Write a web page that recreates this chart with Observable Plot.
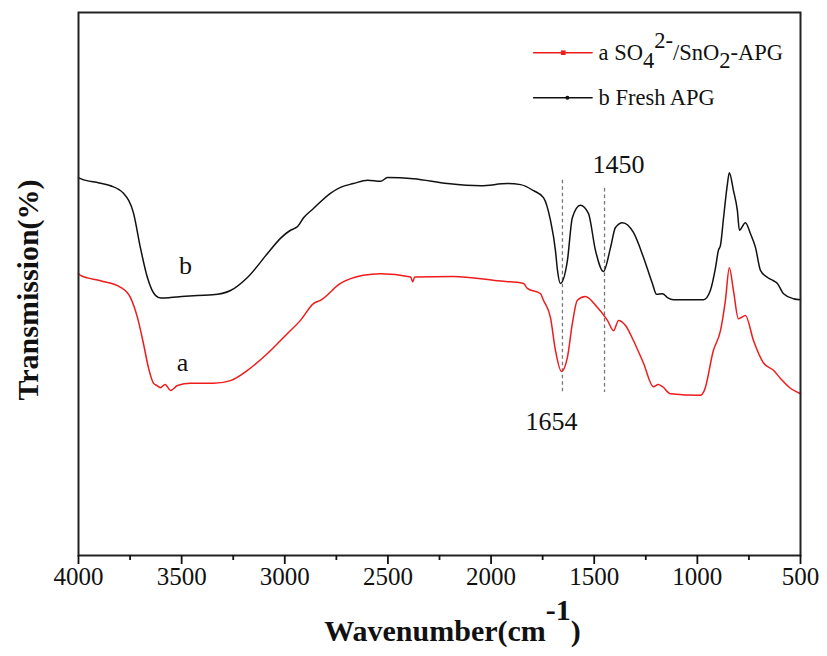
<!DOCTYPE html>
<html><head><meta charset="utf-8">
<script src="https://cdn.jsdelivr.net/npm/d3@7"></script>
<script src="https://cdn.jsdelivr.net/npm/@observablehq/plot@0.6"></script>
<style>body{margin:0;background:#fff}</style>
</head><body><div id="chart"></div>
<script>
// ---- data ----
const blackWn = [4000,3990,3900,3845,3782,3733,3700,3666,3627,3600,3554,3500,3423,3350,3263,3181,3084,3021,2972,2950,2938,2909,2861,2779,2730,2667,2599,2536,2502,2376,2211,2051,1920,1857,1794,1746,1712,1688,1678,1664,1630,1606,1567,1528,1494,1455,1421,1397,1363,1310,1261,1218,1198,1169,1145,1116,970,937,912,898,888,873,854,845,825,806,796,767,743,718,694,660,631,612,582,534,500];
const blackT = [69.6,69.4,68.6,68.1,66.7,63.0,56.7,51.2,47.9,47.4,47.5,47.7,47.9,48.0,48.8,51.2,55.6,58.4,59.9,60.3,60.6,62.2,63.9,66.7,67.8,68.5,69.1,68.9,69.6,69.4,68.5,68.1,68.5,68.3,67.2,65.9,61.7,56.2,52.5,50.1,54.3,62.2,64.5,63.0,56.2,52.3,56.7,60.4,61.3,59.5,54.9,50.1,48.1,48.2,47.5,47.1,47.1,48.8,53.0,56.2,57.1,62.2,68.5,70.5,67.2,63.5,59.9,61.3,59.3,56.7,52.5,51.2,50.6,50.1,48.2,47.3,47.1];
const redWn = [4000,3990,3893,3796,3748,3714,3685,3661,3636,3620,3603,3580,3554,3520,3457,3346,3263,3181,3084,2987,2924,2861,2827,2730,2619,2536,2390,2380,2370,2182,1969,1843,1824,1760,1746,1712,1688,1659,1630,1606,1582,1543,1485,1436,1406,1382,1349,1310,1261,1213,1190,1169,1130,985,966,922,888,864,845,825,801,767,728,680,631,597,549,500];
const redT = [51.9,51.6,50.6,49.4,47.5,43.8,39.0,34.6,31.7,31.3,30.9,31.5,30.4,31.3,31.7,31.7,32.2,34.1,37.2,40.9,43.3,46.4,47.0,50.1,51.6,51.9,51.3,50.4,51.3,51.4,50.6,50.1,49.2,48.2,47.0,43.8,37.8,33.9,36.5,42.7,47.0,47.7,45.7,43.3,41.4,43.3,42.4,39.6,35.4,31.1,31.5,31.1,29.8,29.5,30.4,37.8,41.4,47.0,53.0,48.8,43.6,44.2,39.6,35.5,34.1,32.6,30.8,29.8];

const seriesNames = ["a SO₄²⁻/SnO₂-APG", "b Fresh APG"];
const seriesColors = ["#ee1c1c", "#111111"];
const legendY = [92.6, 84.3];
const legendX1 = 1794, legendX2 = 1510, legendMark = 1650, legendTextX = 1479;

const curveLabels = ["b", "a"];
const curveLabelWn = [3481, 3496];
const curveLabelT = [53.4, 35.5];

const peaks = [1654, 1450];
const peakTop = [69.1, 67.6];
const peakBottom = [30.0, 30.0];
const peakLabels = ["1654", "1450"];
const peakLabelWn = [1707, 1382];
const peakLabelT = [24.7, 72.0];

const majorTicks = [4000,3500,3000,2500,2000,1500,1000,500];
const majorTickLabels = ["4000","3500","3000","2500","2000","1500","1000","500"];
const minorTicks = [3750,3250,2750,2250,1750,1250,750];
const xTitle = "Wavenumber(cm⁻¹)";
const yTitle = "Transmission(%)";

// ---- tables ----
const black = blackWn.map((w, i) => ({wn: w, t: blackT[i]}));
const red = redWn.map((w, i) => ({wn: w, t: redT[i]}));
const legendLines = [];
seriesNames.forEach((s, i) => { legendLines.push({s: i, wn: legendX1, t: legendY[i]}, {s: i, wn: legendX2, t: legendY[i]}); });

const serif = "'Liberation Serif','Times New Roman',Times,serif";

const chart = Plot.plot({
  width: 827, height: 656,
  marginLeft: 78, marginRight: 27, marginTop: 12, marginBottom: 101,
  style: {fontFamily: serif, background: "#fff", color: "#111", overflow: "visible"},
  x: {domain: [4000, 500]},
  y: {domain: [0, 100], axis: null},
  marks: [
    Plot.ruleX(peaks, {x: d => d, y1: (d, i) => peakTop[i], y2: (d, i) => peakBottom[i], stroke: "#777", strokeWidth: 1.3, strokeDasharray: "3.5,3"}),
    Plot.line(red, {x: "wn", y: "t", stroke: seriesColors[0], strokeWidth: 1.5, curve: "monotone-x"}),
    Plot.line(black, {x: "wn", y: "t", stroke: seriesColors[1], strokeWidth: 1.5, curve: "monotone-x"}),
    Plot.line(legendLines.filter(d => d.s === 0), {x: "wn", y: "t", stroke: seriesColors[0], strokeWidth: 1.5}),
    Plot.line(legendLines.filter(d => d.s === 1), {x: "wn", y: "t", stroke: seriesColors[1], strokeWidth: 1.5}),
    Plot.dot([0], {x: legendMark, y: legendY[0], symbol: "square", r: 2.6, fill: seriesColors[0]}),
    Plot.dot([1], {x: legendMark - 20, y: legendY[1], r: 2, fill: seriesColors[1]}),
    Plot.text(seriesNames, {x: legendTextX, y: (d, i) => legendY[i], text: d => d, textAnchor: "start", fontSize: 22.5, fontFamily: serif, fill: "#111"}),
    Plot.text(curveLabels, {x: (d, i) => curveLabelWn[i], y: (d, i) => curveLabelT[i], text: d => d, fontSize: 26, fontFamily: serif, fill: "#111"}),
    Plot.text(peakLabels, {x: (d, i) => peakLabelWn[i], y: (d, i) => peakLabelT[i], text: d => d, fontSize: 26, fontFamily: serif, fill: "#111"}),
    Plot.frame({stroke: "#222", strokeWidth: 2}),
    Plot.axisX({ticks: majorTicks, tickSize: 9, tickFormat: () => "", strokeWidth: 1.8, label: null}),
    Plot.axisX({ticks: minorTicks, tickSize: 5, tickFormat: () => "", strokeWidth: 1.8, label: null}),
    Plot.text(majorTicks, {x: d => d, frameAnchor: "bottom", dy: 29, text: (d, i) => majorTickLabels[i], fontSize: 25, fontFamily: serif, fill: "#111"}),
    Plot.text([xTitle], {frameAnchor: "bottom", dx: 13, dy: 85, text: d => d, fontSize: 30, fontWeight: "bold", fontFamily: serif, fill: "#111"}),
    Plot.text([yTitle], {frameAnchor: "left", textAnchor: "middle", dx: -50, dy: 6, rotate: -90, text: d => d, fontSize: 30, fontWeight: "bold", fontFamily: serif, fill: "#111"})
  ]
});
document.getElementById("chart").appendChild(chart);

// rich text: subscripts / superscripts
const NS = "http://www.w3.org/2000/svg";
const richParts = {
  "a SO₄²⁻/SnO₂-APG": [["a SO"], ["4", "0.35em"], ["2-", "-0.9em"], ["/SnO", "0.55em"], ["2", "0.35em"], ["-APG", "-0.35em"]],
  "Wavenumber(cm⁻¹)": [["Wavenumber(cm"], ["-1", "-21"], [")", "21"]]
};
chart.querySelectorAll("text").forEach(node => {
  const parts = richParts[node.textContent];
  if (!parts) return;
  node.textContent = "";
  parts.forEach(([s, dy]) => {
    const ts = document.createElementNS(NS, "tspan");
    ts.textContent = s;
    if (dy) ts.setAttribute("dy", dy);
    node.appendChild(ts);
  });
});
</script>
</body></html>
